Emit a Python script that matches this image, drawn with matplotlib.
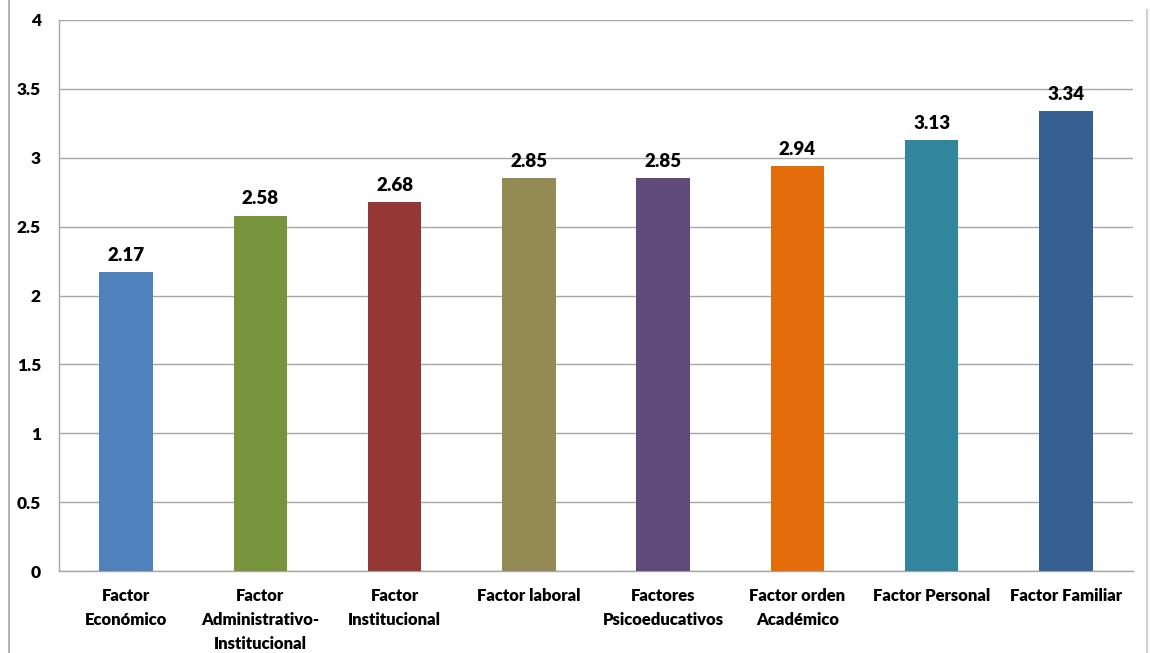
import matplotlib.pyplot as plt
from matplotlib.lines import Line2D

categories = ['Factor\nEconómico', 'Factor\nAdministrativo-\nInstitucional', 'Factor\nInstitucional',
              'Factor laboral', 'Factores\nPsicoeducativos', 'Factor orden\nAcadémico',
              'Factor Personal', 'Factor Familiar']
values = [2.17, 2.58, 2.68, 2.85, 2.85, 2.94, 3.13, 3.34]
colors = ['#4F81BD', '#77933C', '#953735', '#948A54', '#604A7B', '#E46C0A', '#31859C', '#376092']
yticks = [0, 0.5, 1, 1.5, 2, 2.5, 3, 3.5, 4]
ytick_labels = ['0', '0.5', '1', '1.5', '2', '2.5', '3', '3.5', '4']

plt.rcParams['font.family'] = ['Lato', 'DejaVu Sans']

fig = plt.figure(figsize=(11.5, 6.53), dpi=100)
ax = fig.add_axes([59 / 1150, 1 - 571 / 653, (1133 - 59) / 1150, (571 - 20) / 653])

x = range(len(categories))
ax.bar(x, values, width=0.4, color=colors, zorder=3)
for xi, v in zip(x, values):
    ax.text(xi, v + 0.06, f'{v:.2f}', ha='center', va='bottom', fontsize=13.5,
            fontweight='heavy', color='black', zorder=4)

ax.set_xlim(-0.5, len(categories) - 0.5)
ax.set_ylim(0, 4)
ax.set_yticks(yticks)
ax.set_yticklabels(ytick_labels, fontsize=12.5, fontweight='heavy')
ax.set_xticks(list(x))
ax.set_xticklabels(categories, fontsize=12, fontweight='heavy', linespacing=1.62)
ax.tick_params(axis='both', length=0)
ax.tick_params(axis='y', pad=13)
ax.tick_params(axis='x', pad=12)
ax.grid(axis='y', color='#A6A6A6', linewidth=1, zorder=0)
for s in ['top', 'right']:
    ax.spines[s].set_visible(False)
for s in ['left', 'bottom']:
    ax.spines[s].set_color('#A6A6A6')
    ax.spines[s].set_linewidth(1)

# outer frame lines
fig.add_artist(Line2D([9 / 1150, 9 / 1150], [0, 1], color='#A6A6A6', linewidth=1.2, transform=fig.transFigure))
fig.add_artist(Line2D([1147 / 1150, 1147 / 1150], [0, 1 - 10 / 653], color='#D0D0D0', linewidth=1.5,
                      transform=fig.transFigure))

fig.savefig('out.png', dpi=100)
